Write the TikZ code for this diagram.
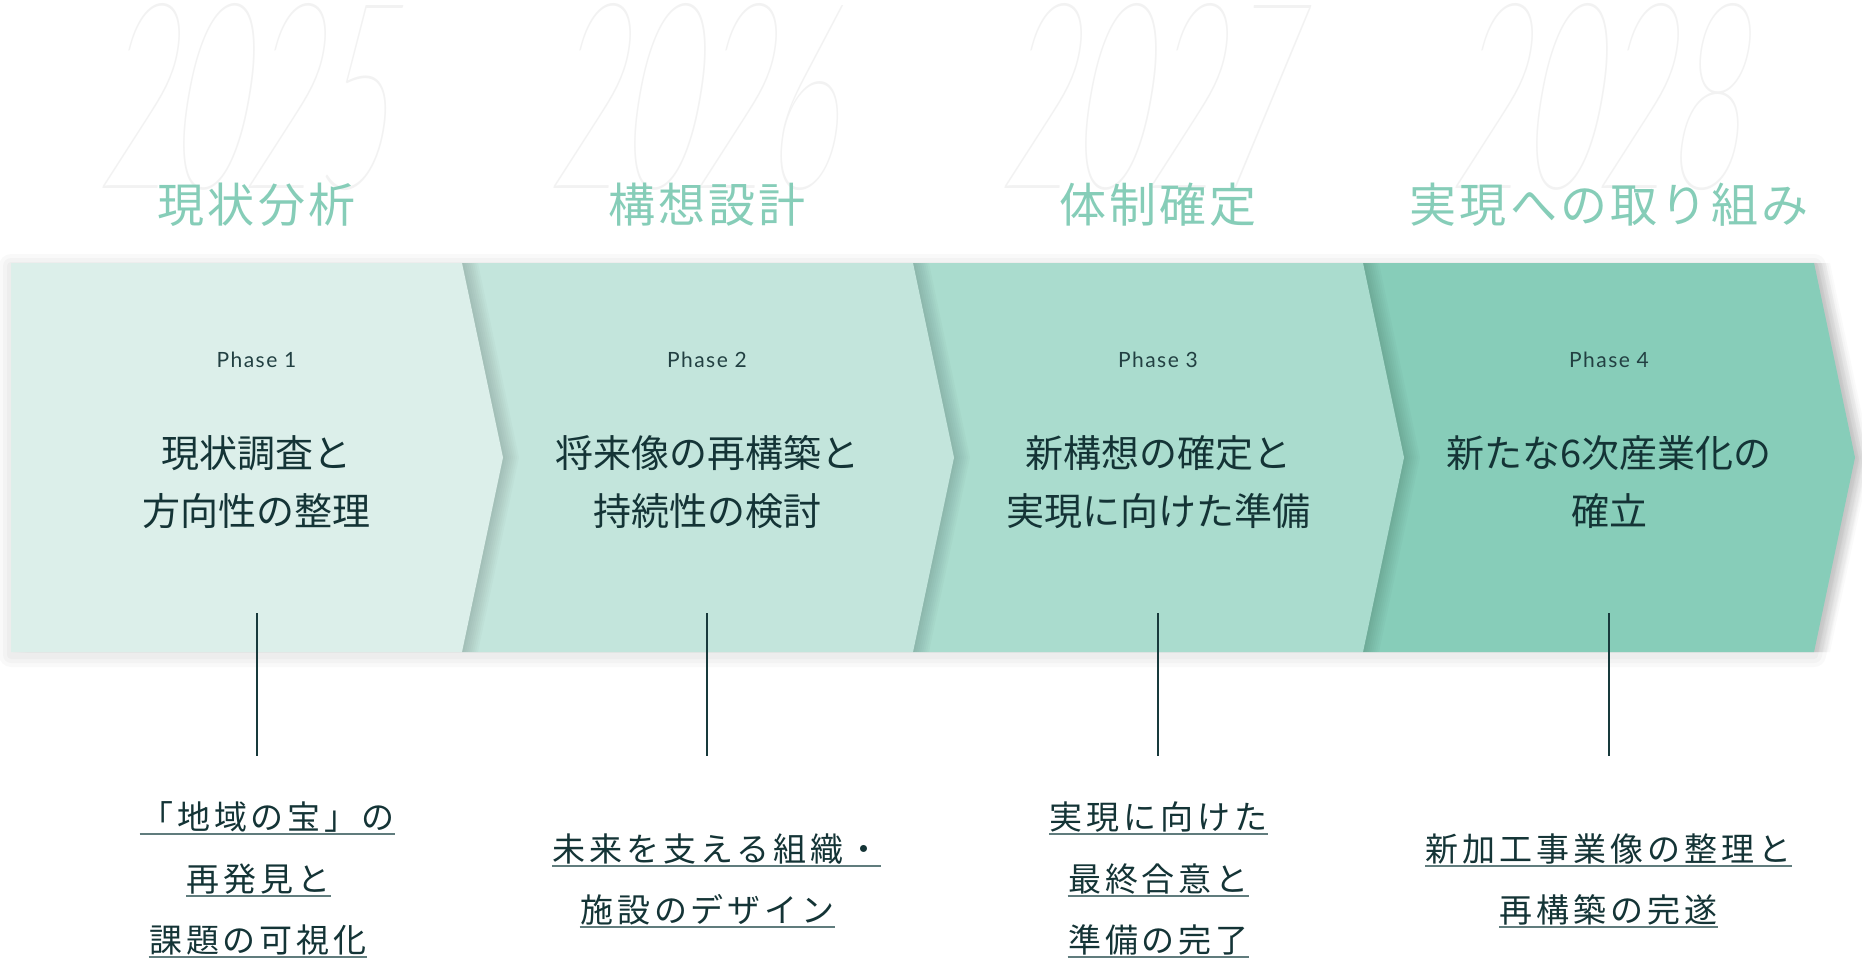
\documentclass[tikz,border=0pt]{standalone}
\usepackage{fontspec}
\newfontfamily\jpfont{Noto Sans CJK JP}
\newfontfamily\jptitlefont[LetterSpace=7]{Noto Sans CJK JP}
\newfontfamily\jpsubfont[LetterSpace=12]{Noto Sans CJK JP}
\newfontfamily\phasefont[LetterSpace=7]{Lato}
% thin face for the big years, first one found
\IfFontExistsTF{Lato Hairline}{%
  \newfontfamily\yearfont{Lato Hairline}\def\yearsize{196pt}\def\yearxs{0.48}}{%
  \IfFontExistsTF{DejaVu Sans ExtraLight}{%
    \newfontfamily\yearfont{DejaVu Sans ExtraLight}\def\yearsize{192pt}\def\yearxs{0.445}}{%
    \newfontfamily\yearfont{Lato}\def\yearsize{196pt}\def\yearxs{0.48}}}

\tikzset{every picture/.style={line width=0.75pt}}
\tikzset{
  yeartext/.style={anchor=base, inner sep=0, text={rgb, 255:red, 242; green, 242; blue, 242}, font=\yearfont\fontsize{\yearsize}{\yearsize}\selectfont, xslant=0.17, xscale=\yearxs},
  titletext/.style={anchor=base, inner sep=0, text={rgb, 255:red, 134; green, 205; blue, 184}, font=\jptitlefont\fontsize{35.25pt}{35.25pt}\selectfont},
  phasetext/.style={anchor=base, inner sep=0, text={rgb, 255:red, 34; green, 64; blue, 66}, font=\phasefont\fontsize{15.75pt}{15.75pt}\selectfont},
  maintext/.style={anchor=base, inner sep=0, text={rgb, 255:red, 20; green, 52; blue, 54}, font=\jpfont\fontsize{28.5pt}{28.5pt}\selectfont},
  ulline/.style={draw={rgb, 255:red, 96; green, 124; blue, 125}, line width=1.5pt},
  subtext/.style={anchor=base, inner sep=0, text depth=3.5pt, text={rgb, 255:red, 20; green, 52; blue, 54}, font=\jpsubfont\fontsize{24.75pt}{24.75pt}\selectfont,
    append after command={(\tikzlastnode.south west) edge[ulline] (\tikzlastnode.south east)}},
  vline/.style={draw={rgb, 255:red, 24; green, 58; blue, 60}, line width=1.5pt},
  bandhalo/.style={draw=black, draw opacity=0.022, line join=round},
  chevshadow/.style={fill=black, fill opacity=0.02}
}

\begin{document}
\begin{tikzpicture}[x=0.75pt,y=0.75pt,yscale=-1,xscale=1]
        %set diagram size 1862 x 967
        \fill[white] (0,0) rectangle (1862,967);
        \useasboundingbox (0,0) rectangle (1862,967);

        % Year Nodes
        \node[yeartext] (y1) at (240.5,188) {2025};
        \node[yeartext] (y2) at (691,188) {2026};
        \node[yeartext] (y3) at (1142,188) {2027};
        \node[yeartext] (y4) at (1593,188) {2028};

        % Title Nodes
        \node[titletext] (t1) at (256.5,222) {現状分析};
        \node[titletext] (t2) at (707,222) {構想設計};
        \node[titletext] (t3) at (1158,222) {体制確定};
        \node[titletext] (t4) at (1609,222) {実現への取り組み};

        %Shape: soft shadow round the band
        \draw[bandhalo, line width=18pt] (11,266) -- (1814,266) -- (1855,460.5) -- (1814,655) -- (11,655) -- cycle;
        \draw[bandhalo, line width=12pt] (11,266) -- (1814,266) -- (1855,460.5) -- (1814,655) -- (11,655) -- cycle;
        \draw[bandhalo, line width=6pt] (11,266) -- (1814,266) -- (1855,460.5) -- (1814,655) -- (11,655) -- cycle;

        %Shape: Chevron 4
        \foreach \k in {2,4,...,16} {\fill[chevshadow] (1363+\k,263) -- (1814+\k,263) -- (1855+\k,457.5) -- (1814+\k,652) -- (1363+\k,652) -- cycle;}
        \fill[fill={rgb, 255:red, 135; green, 205; blue, 185}] (1363,263) -- (1814,263) -- (1855,457.5) -- (1814,652) -- (1363,652) -- cycle;
        %Shape: Chevron 3
        \foreach \k in {2,4,...,16} {\fill[chevshadow] (913+\k,263) -- (1363+\k,263) -- (1404+\k,457.5) -- (1363+\k,652) -- (913+\k,652) -- cycle;}
        \fill[fill={rgb, 255:red, 170; green, 220; blue, 206}] (913,263) -- (1363,263) -- (1404,457.5) -- (1363,652) -- (913,652) -- cycle;
        %Shape: Chevron 2
        \foreach \k in {2,4,...,16} {\fill[chevshadow] (462+\k,263) -- (913+\k,263) -- (954+\k,457.5) -- (913+\k,652) -- (462+\k,652) -- cycle;}
        \fill[fill={rgb, 255:red, 195; green, 229; blue, 220}] (462,263) -- (913,263) -- (954,457.5) -- (913,652) -- (462,652) -- cycle;
        %Shape: Chevron 1
        \foreach \k in {2,4,...,16} {\fill[chevshadow] (11+\k,263) -- (462+\k,263) -- (503+\k,457.5) -- (462+\k,652) -- (11+\k,652) -- cycle;}
        \fill[fill={rgb, 255:red, 220; green, 239; blue, 234}] (11,263) -- (462,263) -- (503,457.5) -- (462,652) -- (11,652) -- cycle;

        % Phase Nodes
        \node[phasetext] (p1) at (256.5,367) {Phase 1};
        \node[phasetext] (p2) at (707,367) {Phase 2};
        \node[phasetext] (p3) at (1158,367) {Phase 3};
        \node[phasetext] (p4) at (1609,367) {Phase 4};

        % Text Node
        \node[maintext] (m1a) at (256.5,467) {現状調査と};
        \node[maintext] (m1b) at (256.5,525) {方向性の整理};
        % Text Node
        \node[maintext] (m2a) at (707,467) {将来像の再構築と};
        \node[maintext] (m2b) at (707,525) {持続性の検討};
        % Text Node
        \node[maintext] (m3a) at (1158,467) {新構想の確定と};
        \node[maintext] (m3b) at (1158,525) {実現に向けた準備};
        % Text Node
        \node[maintext] (m4a) at (1609,467) {新たな6次産業化の};
        \node[maintext] (m4b) at (1609,525) {確立};

        %Straight Lines
        \coordinate (l1a) at (256.5,613);
        \coordinate (l1b) at (256.5,756);
        \coordinate (l2a) at (707,613);
        \coordinate (l2b) at (707,756);
        \coordinate (l3a) at (1158,613);
        \coordinate (l3b) at (1158,756);
        \coordinate (l4a) at (1609,613);
        \coordinate (l4b) at (1609,756);
        \draw[vline] (l1a) -- (l1b);
        \draw[vline] (l2a) -- (l2b);
        \draw[vline] (l3a) -- (l3b);
        \draw[vline] (l4a) -- (l4b);

        % Text Node
        \node[subtext] (s1a) at (267.5,829.3) {「地域の宝」の};
        \node[subtext] (s1b) at (258.5,891.3) {再発見と};
        \node[subtext] (s1c) at (258,952.3) {課題の可視化};
        % Text Node
        \node[subtext] (s2a) at (716.5,861.3) {未来を支える組織・};
        \node[subtext] (s2b) at (707.5,922.3) {施設のデザイン};
        % Text Node
        \node[subtext] (s3a) at (1158.5,829.3) {実現に向けた};
        \node[subtext] (s3b) at (1158.5,891.3) {最終合意と};
        \node[subtext] (s3c) at (1158.5,952.3) {準備の完了};
        % Text Node
        \node[subtext] (s4a) at (1608.5,861.3) {新加工事業像の整理と};
        \node[subtext] (s4b) at (1608.5,922.3) {再構築の完遂};

\end{tikzpicture}
\end{document}
